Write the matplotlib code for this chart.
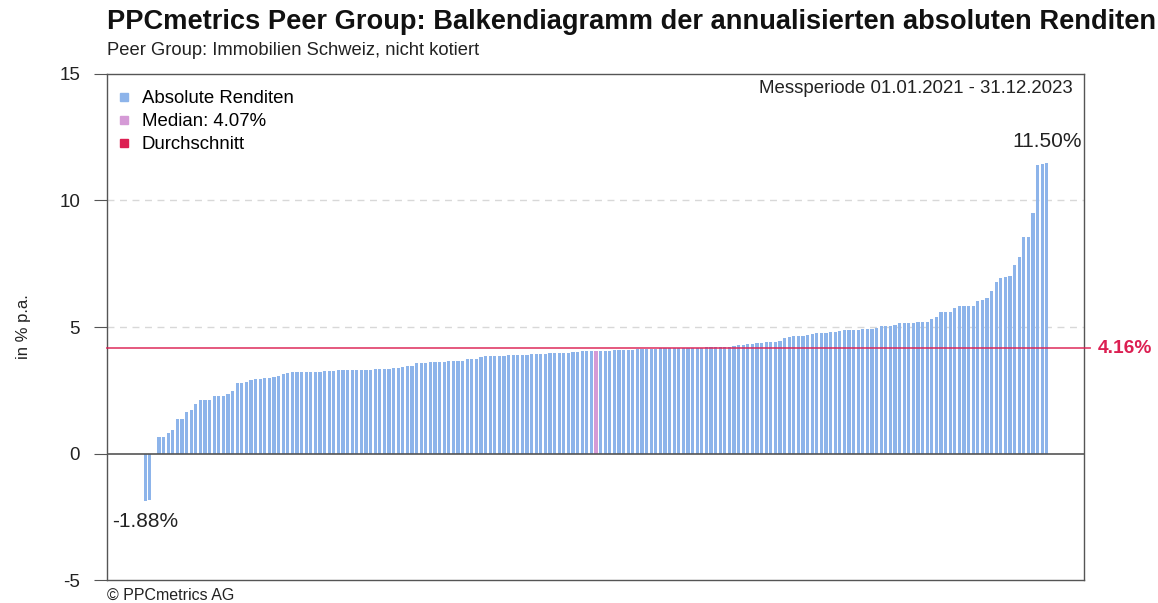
import numpy as np
import matplotlib
matplotlib.use("Agg")
import matplotlib.pyplot as plt
from matplotlib.lines import Line2D
import matplotlib.transforms as mtransforms

plt.rcParams['font.family'] = ['Liberation Sans', 'DejaVu Sans']
plt.rcParams['axes.unicode_minus'] = False

# sorted annualised returns (% p.a.)
returns_low = [-1.88, -1.82, 0.0, 0.65, 0.67, 0.83, 0.91, 1.35, 1.35, 1.64, 1.71, 1.94, 2.10,
               2.13, 2.13, 2.26, 2.26, 2.26, 2.37, 2.47, 2.79, 2.79, 2.82, 2.90, 2.95, 2.96]
returns_mid1 = [3.00, 3.00, 3.03, 3.08, 3.15, 3.17, 3.21, 3.21, 3.22, 3.22, 3.22, 3.23, 3.23,
                3.25, 3.26, 3.27, 3.31, 3.31, 3.31, 3.31, 3.31, 3.31, 3.32, 3.32, 3.35, 3.36,
                3.36, 3.36, 3.39, 3.39]
returns_mid2 = [3.42, 3.47, 3.47, 3.56, 3.56, 3.57, 3.61, 3.61, 3.61, 3.62, 3.66, 3.67, 3.67,
                3.67, 3.74, 3.75, 3.75, 3.80, 3.84, 3.84, 3.85, 3.86, 3.86, 3.88, 3.89, 3.89,
                3.89, 3.90, 3.92, 3.94, 3.95, 3.95]
returns_mid3 = [3.97, 3.97, 3.98, 3.98, 3.99, 4.01, 4.02, 4.04, 4.04, 4.05, 4.07, 4.07, 4.07,
                4.07, 4.08, 4.08, 4.08, 4.10, 4.11, 4.12, 4.12, 4.13, 4.13, 4.15, 4.16, 4.17,
                4.17, 4.18, 4.18, 4.19, 4.19]
returns_mid4 = [4.19, 4.19, 4.19, 4.20, 4.20, 4.20, 4.21, 4.21, 4.22, 4.24, 4.27, 4.28, 4.31,
                4.32, 4.35, 4.37, 4.40, 4.41, 4.42, 4.45, 4.58, 4.60, 4.63, 4.63, 4.63, 4.68,
                4.73, 4.75, 4.78, 4.78, 4.80, 4.82]
returns_high = [4.85, 4.87, 4.90, 4.90, 4.90, 4.92, 4.94, 4.94, 4.97, 5.03, 5.03, 5.03, 5.06,
                5.15, 5.16, 5.17, 5.17, 5.18, 5.19, 5.19, 5.32, 5.41, 5.59, 5.59, 5.59, 5.77,
                5.82, 5.82, 5.82, 5.82, 6.02, 6.07, 6.14, 6.44, 6.77, 6.92, 6.97, 7.01, 7.46,
                7.76, 8.55, 8.55, 9.50, 11.42, 11.43, 11.50]

returns = np.array(returns_low + returns_mid1 + returns_mid2 + returns_mid3 + returns_mid4 + returns_high)
mean_value = 4.16
median_idx = len(returns) // 2
median_value = returns[median_idx]

bar_blue = "#8db4ea"
median_col = "#d59ad6"
mean_col = "#dc1f52"

fig = plt.figure(figsize=(11.58, 6.03), dpi=100)
ax = fig.add_axes([0.0924, 0.0381, 0.8437, 0.8392])

x = np.arange(len(returns))
colors = [bar_blue] * len(returns)
colors[median_idx] = median_col
ax.bar(x, returns, width=0.68, color=colors, zorder=2)

ax.set_xlim(-8.3, len(returns) - 1 + 8.1)
ax.set_ylim(-5, 15)
ax.set_yticks([-5, 0, 5, 10, 15])
ax.set_xticks([])
ax.tick_params(axis='y', labelsize=13.5, length=9.4, pad=10, color="#555555", labelcolor="#222222")
for s in ax.spines.values():
    s.set_color("#555555")
    s.set_linewidth(1.0)

for yv in [5, 10]:
    ax.axhline(yv, color="#d8d8d8", lw=1, ls=(0, (5, 4)), zorder=1)
ax.axhline(0, color="#555555", lw=1.2, zorder=3)
ax.axhline(mean_value, xmin=0, xmax=1.006, color=mean_col, lw=1.3, alpha=0.8, zorder=4, clip_on=False)

trans = mtransforms.blended_transform_factory(ax.transAxes, ax.transData)
ax.text(1.014, mean_value, f"{mean_value:.2f}%", transform=trans, color=mean_col,
        fontsize=13.8, fontweight='bold', ha='left', va='center')

ax.text(x[-1], returns[-1] + 0.45, f"{returns[-1]:.2f}%", ha='center', va='bottom', fontsize=15, color="#222222")
ax.text(x[0], returns[0] - 0.8, f"{returns[0]:.2f}%", ha='center', va='center', fontsize=15, color="#222222")

ax.set_ylabel("in % p.a.", fontsize=12, color="#222222")
ax.yaxis.set_label_coords(-0.078, 0.5)

handles = [
    Line2D([], [], marker='s', ls='', color=bar_blue, markersize=6),
    Line2D([], [], marker='s', ls='', color=median_col, markersize=6),
    Line2D([], [], marker='s', ls='', color=mean_col, markersize=6),
]
labels = ["Absolute Renditen", f"Median: {median_value:.2f}%", "Durchschnitt"]
ax.legend(handles, labels, loc='upper left', bbox_to_anchor=(0.0, 0.983), frameon=False,
          fontsize=13.4, handletextpad=0.47, handlelength=1.0, labelspacing=0.33,
          borderaxespad=0.0, borderpad=0.4)

ax.text(0.988, 0.972, "Messperiode 01.01.2021 - 31.12.2023", transform=ax.transAxes,
        ha='right', va='center', fontsize=13.4, color="#222222")

fig.text(0.0924, 0.952, "PPCmetrics Peer Group: Balkendiagramm der annualisierten absoluten Renditen",
         fontsize=19.6, fontweight='bold', ha='left', va='baseline', color="#111111")
fig.text(0.0924, 0.9088, "Peer Group: Immobilien Schweiz, nicht kotiert",
         fontsize=13.2, ha='left', va='baseline', color="#222222")
fig.text(0.0924, 0.013, "\u00a9 PPCmetrics AG", fontsize=11.5, ha='left', va='center', color="#222222")

fig.savefig("out.png", dpi=100)
